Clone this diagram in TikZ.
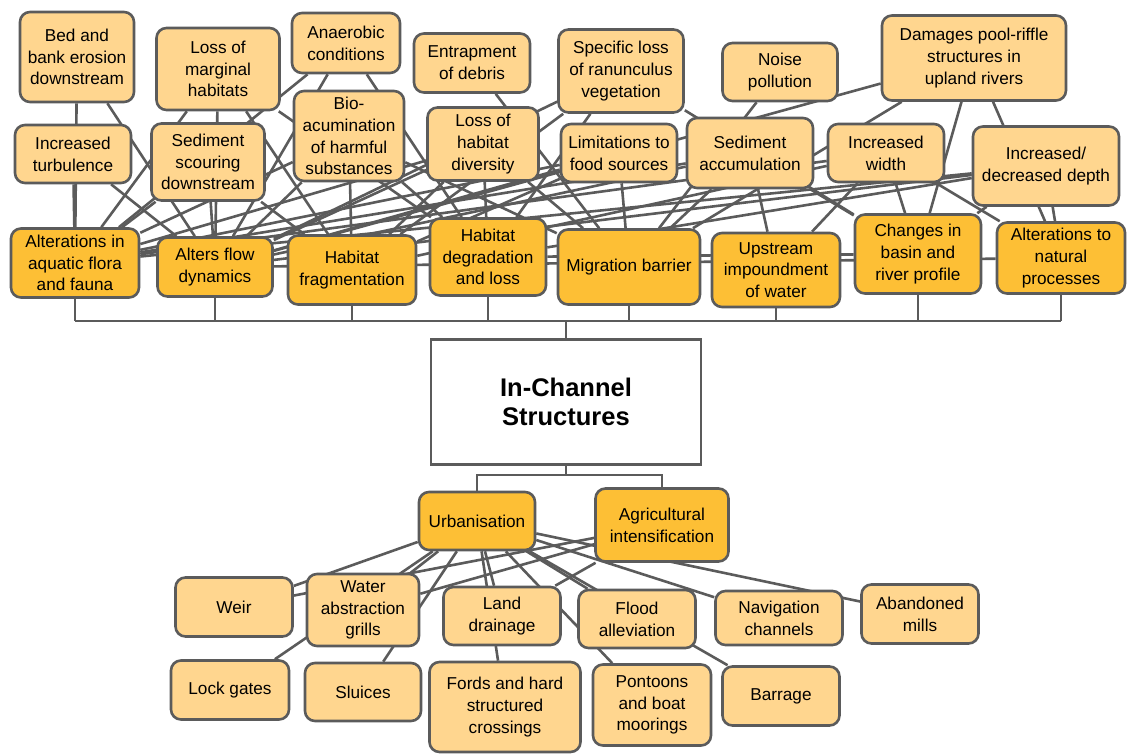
\documentclass[tikz,border=0pt]{standalone}
\usepackage{fontspec}
\setmainfont{Liberation Sans}
\pgfdeclarelayer{bg}
\pgfsetlayers{bg,main}
\definecolor{lightbox}{HTML}{FFD68F}
\definecolor{darkbox}{HTML}{FDBF35}
\definecolor{edgegray}{HTML}{5B5B5B}
\tikzset{
  box/.style 2 args={draw=edgegray, line width=2.6pt, rounded corners=10pt,
    minimum width=#1pt, minimum height=#2pt, align=center, inner sep=0pt,
    font=\fontsize{17.2}{21.8}\selectfont},
  lt/.style 2 args={box={#1}{#2}, fill=lightbox},
  dk/.style 2 args={box={#1}{#2}, fill=darkbox},
  conn/.style={draw=edgegray, line width=2.6pt},
  bus/.style={draw=edgegray, line width=2.2pt},
}
\begin{document}
\begin{tikzpicture}[x=1pt,y=-1pt]
\useasboundingbox (0,0) rectangle (1127,754);
% effects (upper rows)
\node[lt={114}{90}] (BB) at (77,57) {Bed and\\bank erosion\\downstream};
\node[lt={123}{82}] (LMH) at (218,69) {Loss of\\marginal\\habitats};
\node[lt={108}{60}] (AC) at (346,43) {Anaerobic\\conditions};
\node[lt={116}{59}] (ED) at (472,63) {Entrapment\\of debris};
\node[lt={125}{83}] (SLR) at (621,71) {Specific loss\\of ranunculus\\vegetation};
\node[lt={115}{58}] (NP) at (780,72) {Noise\\pollution};
\node[lt={184}{85}] (DP) at (974,58) {Damages pool-riffle\\structures in\\upland rivers};
\node[lt={116}{58}] (IT) at (73,154) {Increased\\turbulence};
\node[lt={113}{77}] (SS) at (208,162) {Sediment\\scouring\\downstream};
\node[lt={110}{90}] (BIO) at (349,136) {Bio-\\acumination\\of harmful\\substances};
\node[lt={111}{73}] (LHD) at (483,144) {Loss of\\habitat\\diversity};
\node[lt={116}{58}] (LFS) at (619,153) {Limitations to\\food sources};
\node[lt={126}{70}] (SA) at (750,153) {Sediment\\accumulation};
\node[lt={116}{58}] (IW) at (886,153) {Increased\\width};
\node[lt={146}{79}] (IDD) at (1046,166) {Increased/\\decreased depth};
% impacts
\node[dk={128}{69}] (AF) at (75,263) {Alterations in\\aquatic flora\\and fauna};
\node[dk={115}{59}] (AFD) at (215,267) {Alters flow\\dynamics};
\node[dk={128}{69}] (HF) at (352,270) {Habitat\\fragmentation};
\node[dk={116}{77}] (HDL) at (488,257) {Habitat\\degradation\\and loss};
\node[dk={142}{75}] (MB) at (629,267) {Migration barrier};
\node[dk={128}{74}] (UI) at (776,270) {Upstream\\impoundment\\of water};
\node[dk={126}{79}] (CB) at (918,254) {Changes in\\basin and\\river profile};
\node[dk={128}{71}] (ANP) at (1061,258) {Alterations to\\natural\\processes};
% centre
\node[draw=edgegray, line width=2.2pt, fill=white, minimum width=270pt, minimum height=125pt,
  align=center, inner sep=0pt, font=\fontsize{25.5}{29.5}\selectfont\bfseries] (ICS) at (566,402) {In-Channel\\Structures};
% drivers
\node[dk={116}{58}] (U) at (477,521) {Urbanisation};
\node[dk={133}{73}] (A) at (662,525) {Agricultural\\intensification};
% structures
\node[lt={117}{59}] (Weir) at (234,607) {Weir};
\node[lt={112}{72}] (WAG) at (363,610) {Water\\abstraction\\grills};
\node[lt={117}{58}] (LD) at (502,616) {Land\\drainage};
\node[lt={117}{58}] (FA) at (637,619) {Flood\\alleviation};
\node[lt={127}{54}] (NC) at (779,618) {Navigation\\channels};
\node[lt={117}{59}] (AM) at (920,614) {Abandoned\\mills};
\node[lt={118}{59}] (LG) at (230,690) {Lock gates};
\node[lt={116}{58}] (SL) at (363,692) {Sluices};
\node[lt={151}{90}] (FO) at (505,707) {Fords and hard\\structured\\crossings};
\node[lt={118}{81}] (PO) at (652,705) {Pontoons\\and boat\\moorings};
\node[lt={117}{59}] (BA) at (781,696) {Barrage};
\begin{pgfonlayer}{bg}
  \foreach \a/\b in {BB/AF, BB/AFD, IT/AF, IT/AFD, LMH/AF, LMH/AFD, LMH/HF, LMH/HDL,
    AC/AF, AC/AFD, AC/HDL, SS/AFD, SS/HF, SS/AF, BIO/AF, BIO/AFD, BIO/HF, BIO/HDL, BIO/MB,
    ED/MB, LHD/AF, LHD/AFD, LHD/HF, LHD/HDL, LHD/MB, SLR/AFD, SLR/HF, SLR/HDL, SLR/CB,
    LFS/AF, LFS/AFD, LFS/MB, LFS/HF, NP/MB, SA/AF, SA/AFD, SA/MB, SA/UI, SA/CB,
    DP/AFD, DP/MB, DP/CB, DP/ANP, IW/AF, IW/HF, IW/UI, IW/CB, IW/ANP,
    IDD/AF, IDD/AFD, IDD/HDL, IDD/CB, IDD/ANP, AFD/ANP, HDL/CB}
    \draw[conn] (\a) -- (\b);
  \foreach \a/\b in {U/Weir, U/WAG, U/LG, U/SL, U/LD, U/FO, U/FA, U/PO, U/BA, U/NC, U/AM,
    A/Weir, A/WAG, A/LD}
    \draw[conn] (\a) -- (\b);
  % bus to the centre box
  \coordinate (busY) at (0,321);
  \draw[bus] (AF.south |- busY) -- (ANP.south |- busY);
  \foreach \n in {AF, AFD, HF, HDL, MB, UI, CB, ANP}
    \draw[bus] (\n.south) -- (\n.south |- busY);
  \draw[bus] (ICS.north) -- (ICS.north |- busY);
  \coordinate (jn) at (566,475);
  \draw[bus] (ICS.south) -- (jn);
  \draw[bus] (U.north) |- (jn) -| (A.north);
\end{pgfonlayer}
\end{tikzpicture}
\end{document}
